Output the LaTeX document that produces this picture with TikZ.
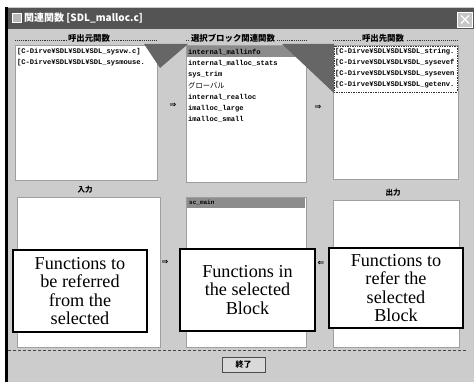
\documentclass[tikz,border=0pt]{standalone}
\usepackage{fontspec}
\setmainfont{Liberation Serif}
\newfontfamily\jpfont{Noto Sans CJK JP}
\newfontfamily\monofont{Liberation Mono}
\newfontfamily\symfont{DejaVu Sans}
\definecolor{winbg}{gray}{0.80}
\definecolor{titlebg}{gray}{0.33}
\definecolor{selbg}{gray}{0.55}
\definecolor{wedgegray}{gray}{0.40}
\begin{document}
\begin{tikzpicture}[x=1pt,y=-1pt,
  listbox/.style={draw=gray!75, fill=white, line width=0.6pt},
  item/.style={font=\monofont\bfseries\fontsize{7.1}{8}\selectfont, anchor=west, inner sep=0pt},
  jpitem/.style={font=\jpfont\fontsize{7.3}{8}\selectfont, anchor=west, inner sep=0pt},
  panellabel/.style={font=\jpfont\bfseries\fontsize{8.4}{9}\selectfont, fill=winbg, inner xsep=1.5pt, inner ysep=0pt},
  iolabel/.style={font=\jpfont\bfseries\fontsize{7.5}{8}\selectfont, inner sep=0pt},
  dots/.style={densely dotted, line width=0.9pt, black!80},
  flow/.style={font=\symfont\bfseries\fontsize{8}{8}\selectfont, inner sep=0pt},
  wedge/.style={fill=wedgegray, draw=none},
  callout/.style={draw=black, line width=1.4pt, fill=white, align=center,
    font=\fontsize{18.2}{18.5}\selectfont, inner sep=0pt},
  selrow/.style={fill=selbg, draw=none}]
\useasboundingbox (0,0) rectangle (476,382);
\fill[white] (0,0) rectangle (476,382);

% window body and frame
\fill[winbg] (6,7) rectangle (474,382);
\draw[black, line width=3pt] (6.5,7) -- (6.5,382);
% title bar
\fill[titlebg] (8,8) rectangle (474,29);
\node[draw=white, fill=gray!55, minimum size=9pt, inner sep=0pt] (icon) at (16.5,18) {};
\node[font=\jpfont\bfseries\fontsize{10}{11}\selectfont, text=white, anchor=west, inner sep=0pt]
  (title) at (24,18) {関連関数 [SDL\_malloc.c]};
\node[draw=white, fill=gray!45, minimum width=15pt, minimum height=15pt, inner sep=0pt,
  line width=0.8pt] (close) at (465,19.5) {};
\draw[white, line width=1.3pt] ([shift={(-4,-4)}]close.center) -- ([shift={(4,4)}]close.center)
  ([shift={(-4,4)}]close.center) -- ([shift={(4,-4)}]close.center);

% header dotted rules
\draw[dots] (15,40) -- (157,40);
\draw[dots] (186,40) -- (306,40);
\draw[dots] (333,40) -- (458,40);

% upper lists
\draw[listbox] (15,45) rectangle (157,180);
\draw[listbox] (186,45) rectangle (306,182);
\draw[listbox] (333,45) rectangle (458,179);

\node[panellabel] (lblcaller) at (89,38) {呼出元関数};
\node[panellabel] (lblblock) at (233,38) {選択ブロック関連関数};
\node[panellabel] (lblcallee) at (383,38) {呼出先関数};

\node[item] (c1) at (17,52) {[C-Dirve¥SDL¥SDL¥SDL\_sysvw.c]};
\node[item] (c2) at (17,63) {[C-Dirve¥SDL¥SDL¥SDL\_sysmouse.};

\fill[selrow] (187,46) rectangle (305,57.5);
\node[item] (b1) at (188,52) {internal\_mallinfo};
\node[item] (b2) at (188,63.3) {internal\_malloc\_stats};
\node[item] (b3) at (188,74.6) {sys\_trim};
\node[jpitem] (b4) at (188,86) {グローバル};
\node[item] (b5) at (188,97.2) {internal\_realloc};
\node[item] (b6) at (188,108.5) {imalloc\_large};
\node[item] (b7) at (188,119.8) {imalloc\_small};

\node[item] (e1) at (335,52) {[C-Dirve¥SDL¥SDL¥SDL\_string.};
\node[item] (e2) at (335,63) {[C-Dirve¥SDL¥SDL¥SDL\_sysevef};
\node[item] (e3) at (335,74) {[C-Dirve¥SDL¥SDL¥SDL\_syseven};
\node[item] (e4) at (335,85) {[C-Dirve¥SDL¥SDL¥SDL\_getenv.};
\draw[dots, line width=0.7pt] (334,46) rectangle (457,92);

% shaded wedges linking the selected rows
\fill[wedge] (144,44) -- (188,44) -- (160,68) -- cycle;
\fill[wedge] (282,44) -- (334,44) -- (334,93) -- cycle;

% flow arrows between the upper lists
\node[flow] (f1) at (173,105) {⇒};
\node[flow] (f2) at (318,107) {⇒};

% lower lists
\node[iolabel] (lblin) at (85,190) {入力};
\node[iolabel] (lblout) at (393,193) {出力};
\draw[listbox] (17,197) rectangle (160,347);
\draw[listbox] (186,197) rectangle (306,347);
\draw[listbox] (333,200) rectangle (459,347);
\fill[selrow] (187,198) rectangle (305,207.5);
\node[item, font=\monofont\bfseries\fontsize{6}{7}\selectfont] (sc) at (189,202.8) {sc\_main};

\node[flow] (f3) at (165,262) {⇒};
\node[flow] (f4) at (321,263) {⇐};

% separator and close button
\draw[gray!55!black, densely dashed, line width=0.8pt] (8,350) -- (466,350);
\node[draw=gray!60!black, fill=gray!30, minimum width=43pt, minimum height=15pt, inner sep=0pt,
  font=\jpfont\bfseries\fontsize{8}{9}\selectfont] (quit) at (243.5,364.5) {終了};

% explanatory callouts
\node[callout, minimum width=134pt, minimum height=82pt] (inbox) at (80,291)
  {Functions to\\be referred\\from the\\selected};
\node[callout, minimum width=135pt, minimum height=82pt] (blockbox) at (247.5,290)
  {Functions in\\the selected\\Block};
\node[callout, minimum width=134pt, minimum height=80pt] (outbox) at (396,288)
  {Functions to\\refer the\\selected\\Block};
\end{tikzpicture}
\end{document}
